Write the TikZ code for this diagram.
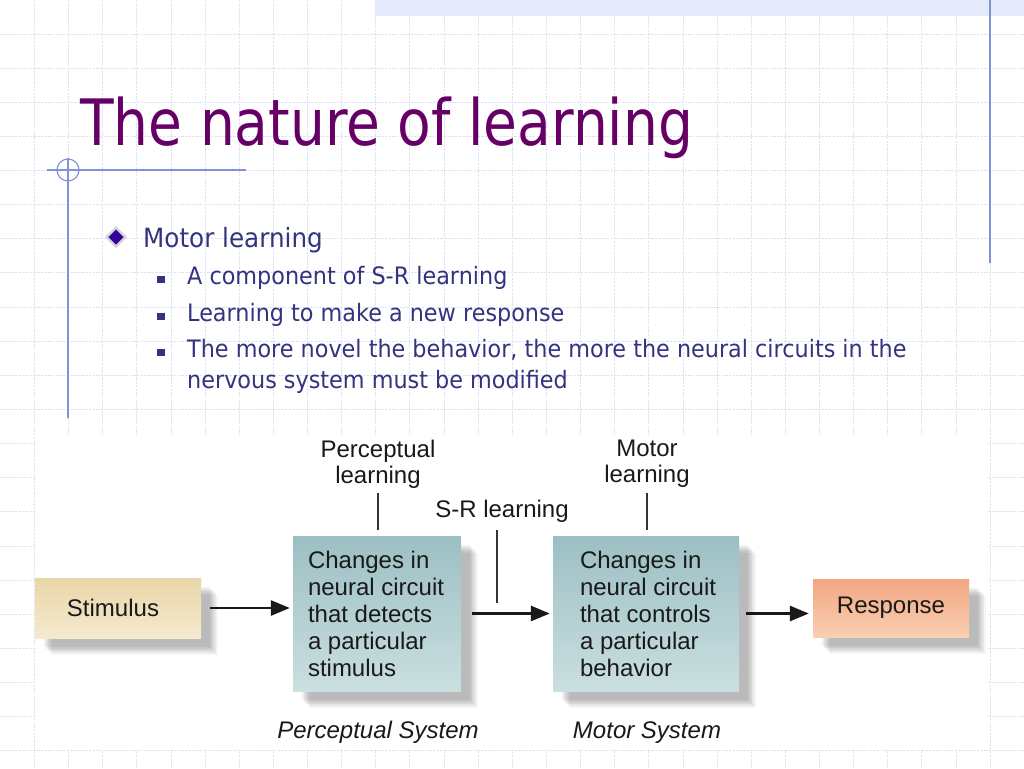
\documentclass[tikz,border=0pt]{standalone}
\usepackage{fontspec}
\setmainfont{Liberation Sans}
\newfontfamily\titlefont{DejaVu Sans}[FakeStretch=0.86]
\newfontfamily\bodyfont{DejaVu Sans}[FakeStretch=0.93]
\usetikzlibrary{arrows.meta,shadows}
\definecolor{titlepurple}{RGB}{102,0,102}
\definecolor{bodyblue}{RGB}{51,51,128}
\definecolor{gridc}{RGB}{222,226,244}
\definecolor{decoblue}{RGB}{128,146,218}
\definecolor{bandc}{RGB}{228,234,249}
\definecolor{stimtop}{RGB}{233,214,168}
\definecolor{stimbot}{RGB}{245,234,207}
\definecolor{tealtop}{RGB}{156,191,195}
\definecolor{tealbot}{RGB}{202,223,224}
\definecolor{resptop}{RGB}{242,166,130}
\definecolor{respbot}{RGB}{249,207,179}
\definecolor{diagtext}{RGB}{25,25,25}
\definecolor{bulletpurple}{RGB}{51,0,153}
\begin{document}
\begin{tikzpicture}[x=1pt,y=-1pt,
  gridline/.style={gridc, line width=0.9pt, dash pattern=on 2.5pt off 1.2pt},
  deco/.style={decoblue, line width=1.1pt},
  shadowed/.style={
    general shadow={shadow xshift=9pt, shadow yshift=-9pt, fill=black, opacity=0.06},
    general shadow={shadow xshift=11pt, shadow yshift=-11pt, fill=black, opacity=0.07},
    general shadow={shadow xshift=13pt, shadow yshift=-13pt, fill=black, opacity=0.07},
    general shadow={shadow xshift=15pt, shadow yshift=-15pt, fill=black, opacity=0.06},
    general shadow={shadow xshift=17pt, shadow yshift=-17pt, fill=black, opacity=0.04}},
  box/.style={shadowed, inner sep=0pt, text=diagtext, font=\fontsize{24}{27}\selectfont},
  boxtext/.style={inner sep=0pt, align=left, text=diagtext, font=\fontsize{24}{27}\selectfont},
  lab/.style={inner sep=0pt, text=diagtext, font=\fontsize{24}{26}\selectfont},
  tick/.style={line width=1.4pt, black!80},
  arr/.style={line width=2.8pt, black!90, -{Triangle[length=19pt,width=15pt]}},
  body/.style={text=bodyblue, inner sep=0pt, anchor=base west},
  sub/.style={body, font=\bodyfont\fontsize{24}{28}\selectfont},
  subbullet/.style={fill=bodyblue}
]
\useasboundingbox (0,0) rectangle (1024,768);
\fill[white] (0,0) rectangle (1024,768);
% grid
\foreach \k in {0,...,29} {
  \draw[gridline] ({34.5+34.13*\k},0) -- ({34.5+34.13*\k},768);
}
\foreach \k in {0,...,21} {
  \draw[gridline] (0,{34+34.13*\k}) -- (1024,{34+34.13*\k});
}
% top band and decoration lines
\fill[bandc] (375,0) rectangle (1024,16);
\draw[deco] (990,0) -- (990,263);
\draw[deco] (47,170) -- (246,170);
\draw[deco] (68,158) -- (68,418);
\draw[deco] (68,170) circle[radius=11pt];

% title
\node[inner sep=0pt, anchor=base west, text=titlepurple,
      font=\titlefont\fontsize{64}{70}\selectfont] (title) at (80,145) {The nature of learning};

% bullets
\fill[gray!35] (116,226) -- (127,237) -- (116,248) -- (105,237) -- cycle;
\fill[bulletpurple] (116,229.5) -- (123.5,237) -- (116,244.5) -- (108.5,237) -- cycle;
\node[body, font=\bodyfont\fontsize{26.5}{30}\selectfont] (l1) at (143,247) {Motor learning};

\fill[subbullet] (157,275.5) rectangle (164.5,283);
\fill[subbullet] (157,312.5) rectangle (164.5,320);
\fill[subbullet] (157,348.5) rectangle (164.5,356);
\node[sub] (b1) at (187,284) {A component of S-R learning};
\node[sub] (b2) at (187,321) {Learning to make a new response};
\node[sub] (b3) at (187,357) {The more novel the behavior, the more the neural circuits in the};
\node[sub] (b3b) at (187,388) {nervous system must be modified};

% diagram area
\fill[white] (35,435) rectangle (988,750);

\node[box, minimum width=166pt, minimum height=60pt, top color=stimtop, bottom color=stimbot]
  (stim) at (118,608) {Stimulus\hspace*{10pt}};
\node[box, minimum width=168pt, minimum height=155pt, top color=tealtop, bottom color=tealbot]
  (perc) at (377,613.5) {};
\node[boxtext, anchor=west] (perctext) at ([xshift=15pt]perc.west)
  {Changes in\\neural circuit\\that detects\\a particular\\stimulus};
\node[box, minimum width=186pt, minimum height=155pt, top color=tealtop, bottom color=tealbot]
  (mot) at (646,613.5) {};
\node[boxtext, anchor=west] (mottext) at ([xshift=27pt]mot.west)
  {Changes in\\neural circuit\\that controls\\a particular\\behavior};
\node[box, minimum width=156pt, minimum height=58pt, top color=resptop, bottom color=respbot]
  (resp) at (891,608) {Response};

\node[lab, align=center] (perclab) at (378,464) {Perceptual\\learning};
\node[lab, align=center] (motlab) at (647,464) {Motor\\learning};
\node[lab, anchor=base] (srlab) at (502,517) {S-R learning};
\node[lab, anchor=base, font=\fontsize{24}{26}\selectfont\itshape] (percsys) at (378,738) {Perceptual System};
\node[lab, anchor=base, font=\fontsize{24}{26}\selectfont\itshape] (motsys) at (647,738) {Motor System};

\coordinate (srbot) at (497,603);
\draw[tick, shorten <=5pt, shorten >=6pt] (perclab.south) -- (perclab.south |- perc.north);
\draw[tick, shorten <=5pt, shorten >=6pt] (motlab.south) -- (motlab.south |- mot.north);
\draw[tick, shorten <=8pt] (srlab.south -| srbot) -- (srbot);

\draw[arr, shorten <=9pt, shorten >=3pt] (stim.east) -- (stim.east -| perc.west);
\draw[arr, shorten <=11pt, shorten >=3pt] (perc.east) -- (mot.west);
\draw[arr, shorten <=7pt, shorten >=4pt] (mot.east) -- (mot.east -| resp.west);
\end{tikzpicture}
\end{document}
